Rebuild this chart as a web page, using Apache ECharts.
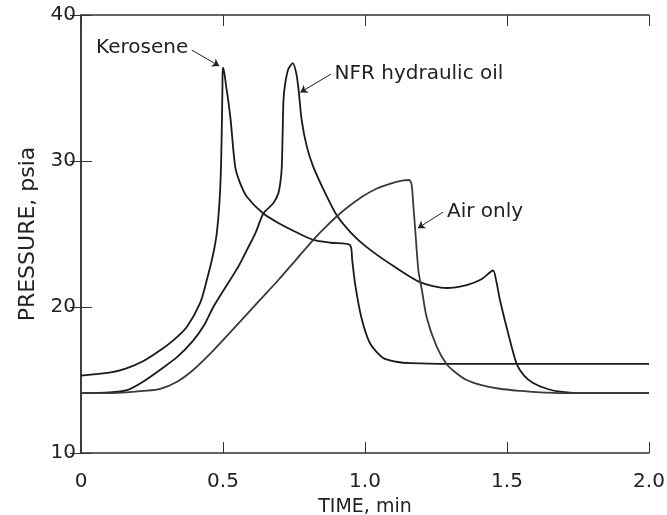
<!DOCTYPE html>
<html>
<head>
<meta charset="utf-8">
<script src="https://cdn.jsdelivr.net/npm/echarts@6/dist/echarts.min.js"></script>
<style>
  html, body { margin: 0; padding: 0; background: #fff; }
  #chart { width: 667px; height: 515px; }
</style>
</head>
<body>
<div id="chart"></div>
<script>
// [time min, pressure psia]
const kerosene = [
  [0, 15.3], [0.1, 15.5], [0.16, 15.8], [0.22, 16.3], [0.28, 17.05], [0.33, 17.8],
  [0.373, 18.65], [0.42, 20.3], [0.443, 21.85], [0.465, 23.6], [0.478, 25.05],
  [0.488, 27.3], [0.493, 29.6], [0.496, 32.5], [0.498, 35.0], [0.499, 36.4],
  [0.504, 36.1], [0.512, 35.0], [0.518, 34.2], [0.527, 32.8], [0.543, 29.6],
  [0.56, 28.5], [0.584, 27.55], [0.642, 26.4], [0.7, 25.7], [0.76, 25.1],
  [0.818, 24.6], [0.88, 24.4], [0.947, 24.25], [0.955, 23.2], [0.965, 21.6],
  [0.987, 19.3], [1.018, 17.5], [1.064, 16.5], [1.11, 16.25], [1.16, 16.15],
  [1.3, 16.1], [2.0, 16.1]
];
const nfrOil = [
  [0, 14.1], [0.1, 14.15], [0.162, 14.3], [0.22, 14.9], [0.279, 15.7], [0.34, 16.6],
  [0.395, 17.7], [0.435, 18.8], [0.466, 20.0], [0.525, 21.85], [0.555, 22.8],
  [0.584, 23.9], [0.615, 25.1], [0.642, 26.4], [0.677, 27.1], [0.695, 27.8],
  [0.703, 28.7], [0.707, 29.6], [0.71, 31.9], [0.713, 34.2], [0.719, 35.3],
  [0.73, 36.3], [0.746, 36.7], [0.758, 36.0], [0.766, 34.9], [0.777, 32.8],
  [0.795, 31.0], [0.818, 29.6], [0.86, 27.8], [0.9, 26.3], [0.95, 25.1],
  [1.006, 24.1], [1.1, 22.8], [1.193, 21.7], [1.287, 21.3], [1.358, 21.5],
  [1.41, 21.9], [1.451, 22.5], [1.462, 21.8], [1.475, 20.5], [1.504, 18.2],
  [1.534, 16.1], [1.56, 15.3], [1.592, 14.8], [1.64, 14.4], [1.686, 14.2],
  [1.75, 14.1], [2.0, 14.1]
];
const airOnly = [
  [0, 14.1], [0.1, 14.1], [0.16, 14.15], [0.22, 14.25], [0.279, 14.4], [0.34, 14.9],
  [0.396, 15.7], [0.455, 16.8], [0.513, 18.0], [0.57, 19.2], [0.631, 20.5],
  [0.695, 21.85], [0.76, 23.3], [0.818, 24.6], [0.86, 25.45], [0.9, 26.2],
  [0.94, 26.85], [0.994, 27.6], [1.04, 28.1], [1.09, 28.45], [1.13, 28.65],
  [1.155, 28.7], [1.164, 28.4], [1.17, 27.0], [1.176, 25.5], [1.188, 22.5],
  [1.2, 21.2], [1.217, 19.3], [1.252, 17.3], [1.287, 16.1], [1.32, 15.5],
  [1.358, 15.0], [1.41, 14.65], [1.475, 14.4], [1.55, 14.25], [1.616, 14.15],
  [1.7, 14.1], [2.0, 14.1]
];

// label anchor and arrow [from, to], in data units
const labels = [
  { text: "Kerosene", at: [0.388, 37.75], pos: "left", arrow: [[0.39, 37.6], [0.487, 36.5]] },
  { text: "NFR hydraulic oil", at: [0.882, 35.95], pos: "right", arrow: [[0.88, 35.95], [0.772, 34.7]] },
  { text: "Air only", at: [1.278, 26.5], pos: "right", arrow: [[1.275, 26.5], [1.186, 25.4]] }
];

const ink = "#222";
const font = "'DejaVu Sans', sans-serif";

const makeSeries = (name, data, color, note) => ({
  name,
  type: "line",
  data,
  symbol: "none",
  smooth: 0.25,
  lineStyle: { color, width: 1.8 },
  markPoint: {
    symbol: "circle",
    symbolSize: 0,
    data: [{
      coord: note.at,
      label: { show: true, position: note.pos, distance: 3, formatter: note.text, color: ink, fontSize: 20, fontFamily: font }
    }]
  },
  markLine: {
    silent: true,
    symbol: ["none", "arrow"],
    symbolSize: 7,
    label: { show: false },
    lineStyle: { color: ink, width: 1, type: "solid" },
    data: [[{ coord: note.arrow[0] }, { coord: note.arrow[1] }]]
  }
});

const chart = echarts.init(document.getElementById("chart"));
chart.setOption({
  animation: false,
  backgroundColor: "#fff",
  grid: { left: 81, right: 18, top: 15, bottom: 62, containLabel: false, outerBoundsMode: "none" },
  xAxis: [
    {
      type: "value",
      min: 0,
      max: 2,
      interval: 0.5,
      name: "TIME, min",
      nameLocation: "middle",
      nameGap: 45,
      nameTextStyle: { color: ink, fontSize: 19, fontFamily: font },
      axisLine: { lineStyle: { color: "#333", width: 1.5 } },
      axisTick: { inside: true, length: 11, lineStyle: { color: "#333" } },
      axisLabel: {
        color: ink, fontSize: 20, fontFamily: font, margin: 19,
        formatter: (v) => (v === 0 ? "0" : v.toFixed(1))
      },
      splitLine: { show: false }
    },
    {
      type: "value",
      position: "top",
      min: 0,
      max: 2,
      interval: 0.5,
      axisLine: { show: true, lineStyle: { color: "#333", width: 1.5 } },
      axisTick: { inside: true, length: 11, lineStyle: { color: "#333" } },
      axisLabel: { show: false },
      splitLine: { show: false }
    }
  ],
  yAxis: [
    {
      type: "value",
      min: 10,
      max: 40,
      interval: 10,
      name: "PRESSURE, psia",
      nameLocation: "middle",
      nameGap: 40,
      nameRotate: 90,
      nameTextStyle: { color: ink, fontSize: 22, fontFamily: font },
      axisLine: { show: true, lineStyle: { color: "#333", width: 1.5 } },
      axisTick: { show: true, inside: true, length: 11, lineStyle: { color: "#333" } },
      axisLabel: { color: ink, fontSize: 20, fontFamily: font, margin: 5 },
      splitLine: { show: false }
    },
    {
      type: "value",
      position: "right",
      min: 10,
      max: 40,
      interval: 10,
      axisLine: { show: true, lineStyle: { color: "#333", width: 1.5 } },
      axisTick: { show: true, inside: true, length: 11, lineStyle: { color: "#333" } },
      axisLabel: { show: false },
      splitLine: { show: false }
    }
  ],
  series: [
    makeSeries("Kerosene", kerosene, "#1a1a1a", labels[0]),
    makeSeries("NFR hydraulic oil", nfrOil, "#1a1a1a", labels[1]),
    makeSeries("Air only", airOnly, "#3a3a3a", labels[2])
  ]
});
</script>
</body>
</html>
